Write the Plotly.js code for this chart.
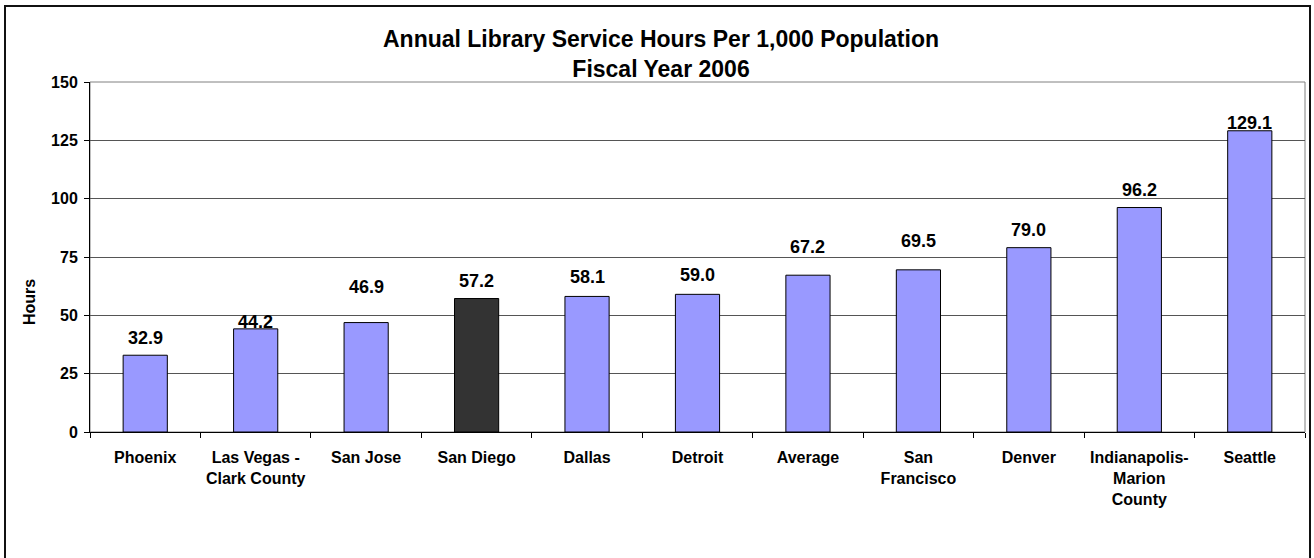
<!DOCTYPE html>
<html>
<head>
<meta charset="utf-8">
<script src="https://cdn.plot.ly/plotly-3.0.1.min.js"></script>
<style>
  html, body { margin: 0; padding: 0; background: #ffffff; }
  #chart { width: 1314px; height: 558px; }
</style>
</head>
<body>
<div id="chart"></div>
<script>
// ---- data ----
const categories = ["Phoenix", "Las Vegas - Clark County", "San Jose", "San Diego", "Dallas",
                    "Detroit", "Average", "San Francisco", "Denver", "Indianapolis-Marion County", "Seattle"];
const tickLabels = ["Phoenix", "Las Vegas -<br>Clark County", "San Jose", "San Diego", "Dallas",
                    "Detroit", "Average", "San<br>Francisco", "Denver", "Indianapolis-<br>Marion<br>County", "Seattle"];
const hours = [32.9, 44.2, 46.9, 57.2, 58.1, 59.0, 67.2, 69.5, 79.0, 96.2, 129.1];
const valueLabels = ["32.9", "44.2", "46.9", "57.2", "58.1", "59.0", "67.2", "69.5", "79.0", "96.2", "129.1"];
const highlighted = "San Diego";

// ---- styles ----
const labelShiftPx = [17, 7, 36, 18, 19, 19, 28, 29, 18, 18, 8];
const FONT = "Liberation Sans, Arial, Helvetica, sans-serif";
const barColor = "#9999FF";
const highlightColor = "#333333";

const colors = categories.map(c => c === highlighted ? highlightColor : barColor);

const trace = {
  type: "bar",
  x: categories,
  y: hours,
  marker: { color: colors, line: { color: "#000000", width: 1 } },
  hoverinfo: "x+y",
  showlegend: false
};

const annotations = categories.map((c, i) => ({
  x: c, y: hours[i], xref: "x", yref: "y",
  text: valueLabels[i], showarrow: false,
  yanchor: "middle", yshift: labelShiftPx[i],
  font: { family: FONT, size: 18, color: "#000000", weight: "bold" }
}));

annotations.push({
  xref: "paper", yref: "paper",
  x: (29 - 90) / 1215, y: (432 - 302) / 350,
  xanchor: "center", yanchor: "middle",
  text: "Hours", textangle: -90, showarrow: false,
  font: { family: FONT, size: 16, color: "#000000", weight: "bold" }
});

const layout = {
  width: 1314, height: 558,
  margin: { l: 90, r: 9, t: 82, b: 126, pad: 0 },
  paper_bgcolor: "#ffffff",
  plot_bgcolor: "#ffffff",
  font: { family: FONT, color: "#000000" },
  title: {
    text: "Annual Library Service Hours Per 1,000 Population<br>Fiscal Year 2006",
    font: { family: FONT, size: 23, color: "#000000", weight: "bold" },
    x: 661 / 1314, xanchor: "center", xref: "container",
    y: 1 - 47 / 558, yanchor: "middle", yref: "container"
  },
  bargap: 0.6,
  xaxis: {
    type: "category",
    tickmode: "array", tickvals: categories, ticktext: tickLabels,
    tickson: "boundaries", ticks: "outside", ticklen: 5, tickcolor: "#000000",
    showline: true, linecolor: "#000000", linewidth: 1,
    showgrid: false, zeroline: false,
    tickangle: 0,
    ticklabelstandoff: 11,
    tickfont: { family: FONT, size: 16, color: "#000000", weight: "bold" }
  },
  yaxis: {
    range: [0, 150], dtick: 25, tick0: 0,
    ticks: "outside", ticklen: 5, tickcolor: "#000000",
    showline: true, linecolor: "#000000", linewidth: 1,
    showgrid: true, gridcolor: "#555555", gridwidth: 1,
    zeroline: false,
    ticklabelstandoff: 3,
    tickfont: { family: FONT, size: 16, color: "#000000", weight: "bold" }
  },
  annotations: annotations,
  shapes: [
    { type: "rect", xref: "paper", yref: "paper", x0: 0, x1: 1, y0: 0, y1: 1,
      line: { color: "#808080", width: 1 }, layer: "below" },
    { type: "rect", xref: "paper", yref: "paper",
      x0: (5 - 90) / 1215, x1: (1310 - 90) / 1215,
      y0: (432 - 570) / 350, y1: (432 - 6) / 350,
      line: { color: "#111111", width: 2 }, layer: "above" }
  ]
};

Plotly.newPlot("chart", [trace], layout, { displayModeBar: false, staticPlot: true });
</script>
</body>
</html>
